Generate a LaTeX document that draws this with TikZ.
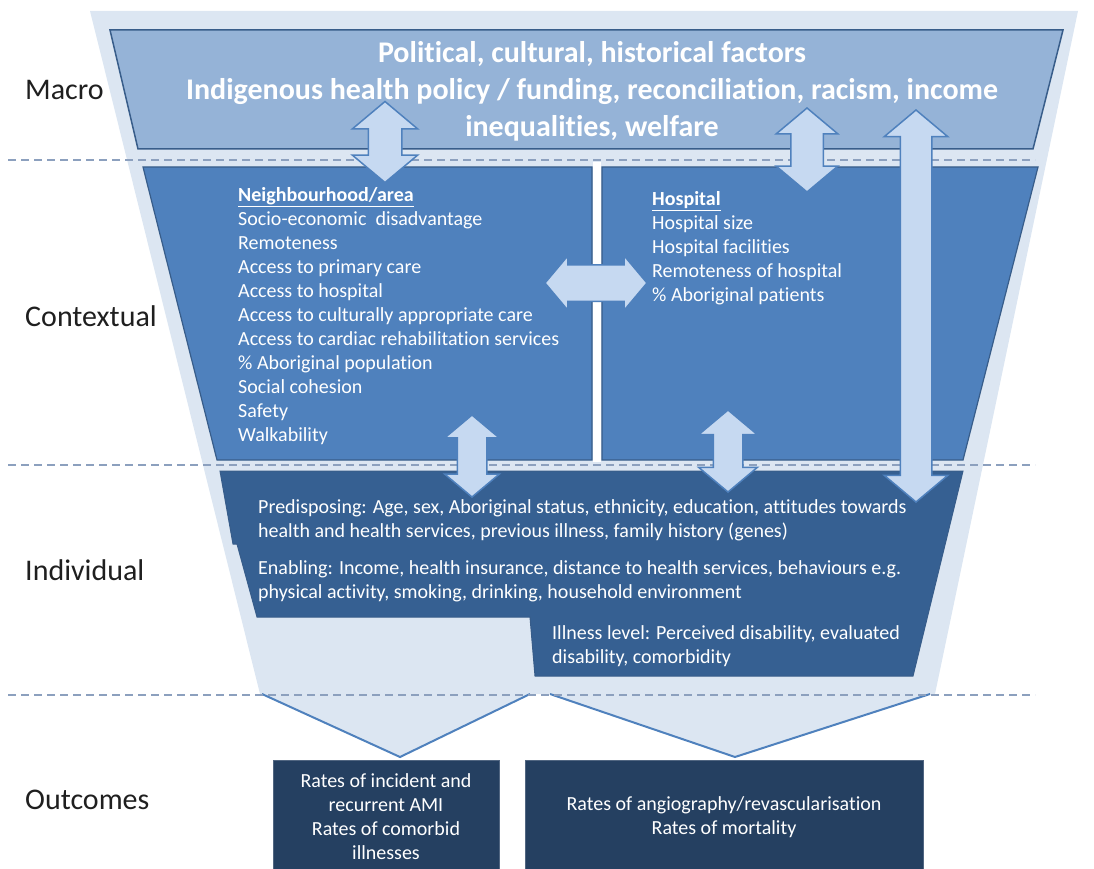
\documentclass[tikz,border=0pt]{standalone}
\usepackage{fontspec}
\setmainfont{Carlito}[Ligatures=NoCommon]
\usetikzlibrary{shapes.arrows}

\definecolor{paleblue}{RGB}{220,230,242}
\definecolor{macroblue}{RGB}{149,179,215}
\definecolor{ctxblue}{RGB}{79,129,189}
\definecolor{indblue}{RGB}{54,96,146}
\definecolor{outblue}{RGB}{37,64,97}
\definecolor{edgeblue}{RGB}{56,93,138}
\definecolor{arrowfill}{RGB}{198,217,241}
\definecolor{dashgray}{RGB}{140,160,190}

\begin{document}
\begin{tikzpicture}[x = 1pt, y = -1pt,
    level/.style = {anchor = west, inner sep = 0pt, text = black!88, font = \fontsize{30}{34}\selectfont},
    body/.style = {anchor = north west, align = left, inner sep = 0pt, text = white, font = \fontsize{20}{24}\selectfont},
    sep/.style = {dashgray, line width = 1.3pt, dash pattern = on 8pt off 5pt},
    twoway/.style 2 args = {double arrow, draw = ctxblue, line width = 1.5pt, fill = arrowfill, inner sep = 0pt,
        inner ysep = #1, double arrow head extend = #2, double arrow tip angle = 100},
    outbox/.style = {fill = outblue, draw = outblue!80!white, line width = .8pt, text = white, align = center, font = \fontsize{20}{24}\selectfont}]
    \useasboundingbox (0,0) rectangle (1094,869);

    % light funnel behind everything
    \fill[paleblue] (90,11) -- (1078,11) -- (935,694) -- (260,694) -- cycle;
    \fill[paleblue] (262,694) -- (400,757) -- (530,694) -- cycle;
    \fill[paleblue] (550,694) -- (735,757) -- (930,694) -- cycle;
    \draw[ctxblue, line width = 2pt] (262,694) -- (400,757) -- (530,694);
    \draw[ctxblue, line width = 2pt] (550,694) -- (735,757) -- (930,694);

    % level separators
    \foreach \y in {160, 465, 695}
        \draw[sep] (8,\y) -- (1035,\y);

    % macro band
    \filldraw[fill = macroblue, draw = edgeblue, line width = 1.5pt] (110,30) -- (1063,30) -- (1033,149) -- (138,149) -- cycle;
    % contextual: area and hospital
    \filldraw[fill = ctxblue, draw = edgeblue, line width = 1.2pt] (143,167) -- (592,167) -- (592,460) -- (217,460) -- cycle;
    \filldraw[fill = ctxblue, draw = edgeblue, line width = 1.2pt] (602,167) -- (1038,167) -- (963,460) -- (602,460) -- cycle;
    \fill[white] (593,162) rectangle (601,462);
    % individual
    \filldraw[fill = indblue, draw = edgeblue, line width = 1pt] (220,471) -- (963,471) -- (913,676) -- (535,676) -- (530,617)
        -- (257,617) -- (237,544) -- (233,544) -- cycle;

    % arrows between levels
    \node[twoway = {16pt}{16pt}, rotate = 90, minimum height = 81pt] (A) at (385,142) {};
    \node[twoway = {15.5pt}{14.5pt}, rotate = 90, minimum height = 84pt] (B) at (807,150) {};
    \node[twoway = {15pt}{16pt}, rotate = 90, minimum height = 392pt] (C) at (916,306) {};
    \node[twoway = {17.5pt}{9pt}, minimum height = 102pt] (D) at (596,283) {};
    \node[twoway = {14pt}{12.5pt}, rotate = 90, minimum height = 82pt] (E) at (472,456) {};
    \node[twoway = {14pt}{14.5pt}, rotate = 90, minimum height = 82pt] (F) at (728,451) {};

    % level names
    \node[level] (macro) at (25,90) {Macro};
    \node[level] (context) at (25,316) {Contextual};
    \node[level] (indiv) at (25,570) {Individual};
    \node[level] (outc) at (25,800) {Outcomes};

    \node[align = center, text = white, font = \bfseries\fontsize{30}{37}\selectfont] (policy) at (592,91)
        {Political, cultural, historical factors\\Indigenous health policy / funding, reconciliation, racism, income\\inequalities, welfare};

    \node[body] (area) at (238,187) {\underline{\textbf{Neighbourhood/area}}\\Socio-economic~ disadvantage\\Remoteness\\Access to primary care\\Access to hospital\\
        Access to culturally appropriate care\\Access to cardiac rehabilitation services\\\% Aboriginal population\\Social cohesion\\Safety\\Walkability};
    \node[body] (hosp) at (652,191) {\underline{\textbf{Hospital}}\\Hospital size\\Hospital facilities\\Remoteness of hospital\\\% Aboriginal patients};

    \node[body] (predis) at (258,499) {Predisposing: Age, sex, Aboriginal status, ethnicity, education, attitudes towards\\health and health services, previous illness, family history (genes)};
    \node[body] (enab) at (258,560) {Enabling: Income, health insurance, distance to health services, behaviours e.g.\\physical activity, smoking, drinking, household environment};
    \node[body] (ill) at (552,625) {Illness level: Perceived disability, evaluated\\disability, comorbidity};

    % outcomes
    \node[outbox, minimum width = 226pt, minimum height = 114pt] (rates1) at (386,817) {Rates of incident and\\recurrent AMI\\Rates of comorbid\\illnesses};
    \node[outbox, minimum width = 398pt, minimum height = 114pt] (rates2) at (724,817) {Rates of angiography/revascularisation\\Rates of mortality};
\end{tikzpicture}
\end{document}
